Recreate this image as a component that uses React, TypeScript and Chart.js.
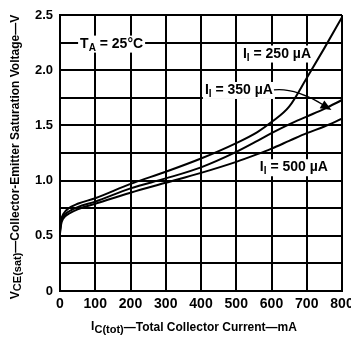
import React, { useEffect, useRef } from 'react';
import { Chart, registerables } from 'chart.js';

Chart.register(...registerables);

// Total collector current (mA)
const currentMa = [0, 3, 10, 25, 50, 100, 200, 300, 400, 500, 560, 600, 650, 700, 750, 800];
// VCE(sat) (V) for each input current
const vce250uA = [0.56, 0.64, 0.70, 0.75, 0.79, 0.84, 0.97, 1.08, 1.20, 1.34, 1.44, 1.53, 1.67, 1.93, 2.20, 2.48];
const vce350uA = [0.54, 0.62, 0.68, 0.72, 0.76, 0.81, 0.93, 1.02, 1.12, 1.26, 1.36, 1.43, 1.51, 1.58, 1.65, 1.73];
const vce500uA = [0.52, 0.60, 0.66, 0.70, 0.74, 0.79, 0.89, 0.98, 1.07, 1.17, 1.24, 1.29, 1.36, 1.43, 1.49, 1.56];

const yTickValues = [0, 0.5, 1.0, 1.5, 2.0, 2.5];
const yTickLabels = ['0', '0.5', '1.0', '1.5', '2.0', '2.5'];

const FONT = '"Liberation Sans", Arial, Helvetica, sans-serif';

type Seg = { t: string; size: number; dy?: number };

function segWidth(ctx: CanvasRenderingContext2D, segs: Seg[]) {
  let w = 0;
  for (const s of segs) {
    ctx.font = `bold ${s.size}px ${FONT}`;
    w += ctx.measureText(s.t).width;
  }
  return w;
}

function drawSegs(ctx: CanvasRenderingContext2D, x: number, y: number, segs: Seg[], bg = false) {
  const w = segWidth(ctx, segs);
  if (bg) {
    ctx.fillStyle = '#fff';
    ctx.fillRect(x - 2, y - 12, w + 4, 17);
  }
  ctx.fillStyle = '#000';
  ctx.textBaseline = 'alphabetic';
  ctx.textAlign = 'left';
  let cx = x;
  for (const s of segs) {
    ctx.font = `bold ${s.size}px ${FONT}`;
    ctx.fillText(s.t, cx, y + (s.dy || 0));
    cx += ctx.measureText(s.t).width;
  }
  return w;
}

const annotations = {
  id: 'annotations',
  afterDatasetsDraw(chart: any) {
    const ctx: CanvasRenderingContext2D = chart.ctx;
    const xs = chart.scales.x;
    const ys = chart.scales.y;
    const px = (v: number) => xs.getPixelForValue(v);
    const py = (v: number) => ys.getPixelForValue(v);
    ctx.save();

    // T_A = 25°C
    drawSegs(ctx, px(57), py(2.25) + 5, [
      { t: 'T', size: 14 },
      { t: 'A', size: 10, dy: 3 },
      { t: ' = 25°C', size: 14 },
    ], true);

    // I_I labels
    const lab = (mA: number, v: number, txt: string) =>
      drawSegs(ctx, px(mA), py(v) + 5, [
        { t: 'I', size: 14 },
        { t: 'I', size: 10, dy: 3 },
        { t: txt, size: 14 },
      ], true);
    lab(519, 2.16, ' = 250 µA');
    const w350 = lab(411, 1.83, ' = 350 µA');
    lab(567, 1.13, ' = 500 µA');

    // Arrow from the 350 µA label to its curve
    const sx = px(411) + w350 + 1;
    const sy = py(1.83) + 1;
    const tx = px(770);
    const ty = py(1.64);
    ctx.strokeStyle = '#000';
    ctx.lineWidth = 1.2;
    ctx.beginPath();
    ctx.moveTo(sx, sy);
    ctx.bezierCurveTo(sx + 16, sy - 2, tx - 22, ty - 14, tx - 8, ty - 5);
    ctx.stroke();
    const ang = Math.atan2(6, 10);
    const L = 11, W = 4.5;
    ctx.beginPath();
    ctx.moveTo(tx, ty);
    ctx.lineTo(tx - L * Math.cos(ang) + W * Math.sin(ang), ty - L * Math.sin(ang) - W * Math.cos(ang));
    ctx.lineTo(tx - L * Math.cos(ang) - W * Math.sin(ang), ty - L * Math.sin(ang) + W * Math.cos(ang));
    ctx.closePath();
    ctx.fillStyle = '#000';
    ctx.fill();

    ctx.restore();
  },
  afterDraw(chart: any) {
    const ctx: CanvasRenderingContext2D = chart.ctx;
    const area = chart.chartArea;
    ctx.save();
    // X axis title
    const xSegs: Seg[] = [
      { t: 'I', size: 12, dy: -1 },
      { t: 'C(tot)', size: 11, dy: 2 },
      { t: '—Total Collector Current—mA', size: 12 },
    ];
    const xw = segWidth(ctx, xSegs);
    drawSegs(ctx, 194 - xw / 2, 331, xSegs);
    // Y axis title
    const ySegs: Seg[] = [
      { t: 'V', size: 12 },
      { t: 'CE(sat)', size: 11, dy: 2 },
      { t: '—Collector-Emitter Saturation Voltage—V', size: 12 },
    ];
    const yw = segWidth(ctx, ySegs);
    ctx.translate(19, (area.top + area.bottom) / 2 + 4);
    ctx.rotate(-Math.PI / 2);
    drawSegs(ctx, -yw / 2, 0, ySegs);
    ctx.restore();
  },
};

export default function App() {
  const ref = useRef<HTMLCanvasElement>(null);
  useEffect(() => {
    const canvas = ref.current!;
    const mk = (vals: number[]) => ({
      data: currentMa.map((x, i) => ({ x, y: vals[i] })),
      borderColor: '#000',
      borderWidth: 2,
      pointRadius: 0,
      fill: false,
      cubicInterpolationMode: 'monotone' as const,
    });
    const chart = new Chart(canvas, {
      type: 'line',
      data: {
        datasets: [
          { label: 'II = 250 µA', ...mk(vce250uA) },
          { label: 'II = 350 µA', ...mk(vce350uA) },
          { label: 'II = 500 µA', ...mk(vce500uA) },
        ],
      },
      options: {
        responsive: false,
        maintainAspectRatio: false,
        animation: false,
        layout: { padding: { left: 0, top: 15, right: 9, bottom: 0 } },
        plugins: { legend: { display: false }, tooltip: { enabled: false } },
        scales: {
          x: {
            type: 'linear',
            min: 0,
            max: 800,
            border: { display: true, color: '#000', width: 2 },
            grid: { display: true, drawOnChartArea: true, color: '#000000', lineWidth: 2, drawTicks: false },
            ticks: {
              stepSize: 100,
              autoSkip: false,
              maxRotation: 0,
              padding: 5,
              color: '#000',
              font: { family: FONT, size: 14, weight: 'bold' },
            },
            afterFit(s: any) {
              s.height = 49;
              s.paddingLeft = 0;
              s.paddingRight = 0;
            },
          },
          y: {
            type: 'linear',
            min: 0,
            max: 2.5,
            border: { display: true, color: '#000', width: 2 },
            grid: { display: true, drawOnChartArea: true, color: '#000000', lineWidth: 2, drawTicks: false },
            ticks: {
              stepSize: 0.25,
              autoSkip: false,
              padding: 7,
              color: '#000',
              font: { family: FONT, size: 13, weight: 'bold' },
              callback: (v: any) => {
                const i = yTickValues.findIndex((t) => Math.abs(t - v) < 1e-6);
                return i >= 0 ? yTickLabels[i] : '';
              },
            },
            afterFit(s: any) {
              s.width = 60;
              s.paddingTop = 0;
              s.paddingBottom = 0;
            },
          },
        },
      } as any,
      plugins: [annotations],
    });
    return () => chart.destroy();
  }, []);
  return (
    <canvas
      ref={ref}
      width={351}
      height={340}
      style={{ position: 'absolute', left: 0, top: 0, width: 351, height: 340 }}
    />
  );
}
